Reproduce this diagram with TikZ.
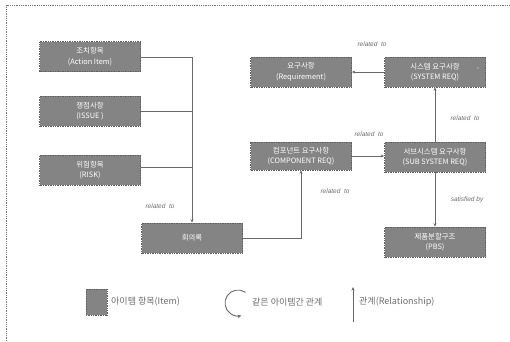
\documentclass[tikz,border=0pt]{standalone}
\usepackage{fontspec}
\setmainfont{Noto Sans CJK KR}
\newfontfamily\lblfont{Liberation Sans}
\usetikzlibrary{arrows.meta}
\definecolor{boxgray}{RGB}{132,132,132}
\definecolor{boxedge}{RGB}{95,95,95}
\definecolor{linegray}{RGB}{105,105,105}
\definecolor{txtgray}{RGB}{110,110,110}
\definecolor{framegray}{RGB}{120,120,120}
\begin{document}
\begin{tikzpicture}[x=1pt,y=-1pt,
  item/.style={fill=boxgray, draw=boxedge, densely dotted, line width=0.7pt,
    minimum width=101pt, minimum height=30pt, inner sep=0pt, text=white,
    font=\fontsize{7.4}{10.5}\selectfont, align=center},
  conn/.style={draw=linegray, line width=0.8pt, -{Stealth[length=3.5pt,width=3pt]}},
  rel/.style={text=txtgray, font=\lblfont\itshape\fontsize{6.5}{8}\selectfont, inner sep=0pt},
  legtext/.style={text=txtgray, font=\fontsize{9}{11}\selectfont, inner sep=0pt, anchor=west}
]
\useasboundingbox[fill=white] (0,0) rectangle (510,341);
% frame (only top and left edges visible)
\coordinate (fbl) at (6,341);
\coordinate (ftl) at (6,5);
\coordinate (ftr) at (510,5);
\draw[framegray, densely dotted, line width=0.8pt] (fbl) -- (ftl) -- (ftr);

% items
\node[item] (act) at (90,56.5) {조치항목\\(Action Item)};
\node[item] (iss) at (90,111) {쟁점사항\\(ISSUE )};
\node[item] (risk) at (90,170) {위험항목\\(RISK)};
\node[item] (mtg) at (192,238) {회의록};
\node[item, minimum height=28pt] (comp) at (301,156) {컴포넌트 요구사항\\(COMPONENT REQ)};
\node[item] (req) at (301,72) {요구사항\\(Requirement)};
\node[item] (sys) at (435,72) {시스템 요구사항\\(SYSTEM REQ)};
\node[item] (sub) at (435,157) {서브시스템 요구사항\\(SUB SYSTEM REQ)};
\node[item] (pbs) at (435,242) {제품분할구조\\(PBS)};
\node[text=white, font=\fontsize{7}{7}\selectfont, inner sep=0pt] (tick) at (478,69) {-};

% bus from left items to meeting minutes
\coordinate (bus) at (192,57);
\draw[draw=linegray, line width=0.8pt] (act.east |- 0,57) -- (bus);
\draw[draw=linegray, line width=0.8pt] (iss.east) -- (192,111);
\draw[draw=linegray, line width=0.8pt] (risk.east |- 0,167) -- (192,167);
\draw[conn] (bus) -- (mtg.north);

% relationships
\draw[conn] (mtg.east) -| (comp.south);
\draw[conn] (comp.east) -- (sub.west |- comp.east);
\draw[conn] (sys.west) -- (req.east);
\draw[conn] (sub.north) -- (sys.south);
\draw[conn] (sub.south) -- (pbs.north);

% labels
\node[rel] (l1) at (160,206) {related\ \ to};
\node[rel] (l2) at (335,191) {related\ \ to};
\node[rel] (l3) at (369,134) {related\ \ to};
\node[rel] (l4) at (372,44) {related\ \ to};
\node[rel] (l5) at (465,118) {related\ \ to};
\node[rel] (l6) at (467,200) {satisfied by};

% legend
\node[fill=boxgray, draw=boxedge, densely dotted, line width=0.7pt, minimum width=21pt, minimum height=26pt, inner sep=0pt] (legbox) at (96.5,302) {};
\node[legtext] (legt1) at (111,302) {아이템 항목(Item)};
\coordinate (arcstart) at ({238+13*cos(55)},{303-13*sin(55)});
\draw[draw=linegray, line width=0.9pt, -{Stealth[length=4pt,width=3.5pt]}] (arcstart) arc[start angle=55, end angle=285, radius=13pt];
\node[legtext] (legt2) at (252,302) {같은 아이템간 관계};
\coordinate (upbot) at (353,322);
\coordinate (uptop) at (353,287);
\draw[conn] (upbot) -- (uptop);
\node[legtext] (legt3) at (359,302) {관계(Relationship)};
\end{tikzpicture}
\end{document}
